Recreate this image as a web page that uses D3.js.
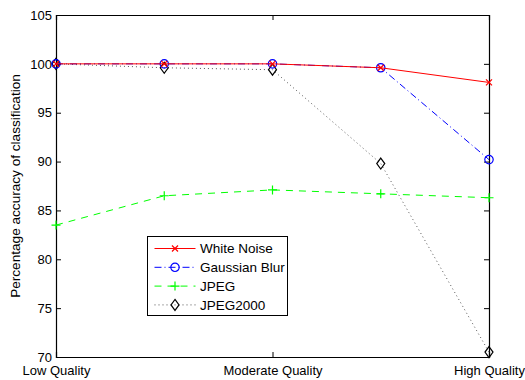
<!DOCTYPE html>
<html>
<head>
<meta charset="utf-8">
<script src="https://cdn.jsdelivr.net/npm/d3@7"></script>
<style>
  body { margin: 0; background: #fff; }
  text { font-family: "Liberation Sans", Arial, sans-serif; }
</style>
</head>
<body>
<svg id="chart"></svg>
<script>
// data
const steps = [0, 1, 2, 3, 4];
const xTickLabels = ["Low Quality", "Moderate Quality", "High Quality"];
const xTickPos = [0, 2, 4];
const yTicks = [70, 75, 80, 85, 90, 95, 100, 105];

const whiteNoise   = [100, 100, 100, 99.6, 98.1];
const gaussianBlur = [100, 100, 100, 99.6, 90.2];
const jpeg         = [83.5, 86.5, 87.1, 86.7, 86.3];
const jpeg2000     = [100, 99.6, 99.4, 89.8, 70.5];

const seriesNames = ["White Noise", "Gaussian Blur", "JPEG", "JPEG2000"];

let width = 525, height = 380;
let margin = {left: 56, right: 36, top: 15, bottom: 23};

let svg = d3.select('#chart').attr('width', width).attr('height', height);

let x = d3.scaleLinear().domain([0, 4]).range([margin.left, width - margin.right]);
let y = d3.scaleLinear().domain([70, 105]).range([height - margin.bottom, margin.top]);

let series = [
  {name: seriesNames[0], values: whiteNoise,   color: '#ff0000', dash: null,      marker: 'x'},
  {name: seriesNames[1], values: gaussianBlur, color: '#0000ff', dash: '7,3,1,3', marker: 'o'},
  {name: seriesNames[2], values: jpeg,         color: '#00ff00', dash: '7,6',     marker: '+'},
  {name: seriesNames[3], values: jpeg2000,     color: '#555555', dash: '1,3',     marker: 'd'}
];

// axes (MATLAB style: ticks inward, full box)
let tick = 5;
let xAxisB = d3.axisBottom(x).tickValues(xTickPos).tickSize(-tick)
  .tickFormat((d, i) => xTickLabels[i]).tickPadding(9);
let xAxisT = d3.axisTop(x).tickValues(xTickPos).tickSize(-tick).tickFormat('');
let yAxisL = d3.axisLeft(y).tickValues(yTicks).tickSize(-tick).tickPadding(4);
let yAxisR = d3.axisRight(y).tickValues(yTicks).tickSize(-tick).tickFormat('');

function style(g) {
  g.select('.domain').attr('stroke', '#000').attr('stroke-width', 1.2);
  g.selectAll('.tick line').attr('stroke', '#000');
  g.selectAll('text').attr('font-size', 13).attr('fill', '#000')
    .attr('font-family', '"Liberation Sans", Arial, sans-serif');
}

svg.append('g').attr('transform', `translate(0,${y(70)})`).call(xAxisB).call(style);
svg.append('g').attr('transform', `translate(0,${y(105)})`).call(xAxisT).call(style);
svg.append('g').attr('transform', `translate(${x(0)},0)`).call(yAxisL).call(style);
svg.append('g').attr('transform', `translate(${x(4)},0)`).call(yAxisR).call(style);

svg.append('text')
  .attr('transform', `translate(20,${(y(70) + y(105)) / 2}) rotate(-90)`)
  .attr('text-anchor', 'middle')
  .attr('font-size', 13.6)
  .text('Percentage accuracy of classification');

function drawMarker(g, type, color) {
  if (type === 'x') {
    g.append('path').attr('d', 'M-3,-3L3,3M-3,3L3,-3').attr('stroke', color).attr('stroke-width', 1.2);
  } else if (type === 'o') {
    g.append('circle').attr('r', 4.2).attr('fill', 'none').attr('stroke', color).attr('stroke-width', 1.2);
  } else if (type === '+') {
    g.append('path').attr('d', 'M-4.5,0L4.5,0M0,-4.5L0,4.5').attr('stroke', color).attr('stroke-width', 1.2);
  } else if (type === 'd') {
    g.append('path').attr('d', 'M0,-5.5L4,0L0,5.5L-4,0Z').attr('fill', 'none').attr('stroke', '#000').attr('stroke-width', 1.2);
  }
}

let line = d3.line().x((d, i) => x(steps[i])).y(d => y(d));

// draw in reverse so White Noise sits on top
series.slice().reverse().forEach(s => {
  svg.append('path')
    .attr('d', line(s.values))
    .attr('fill', 'none')
    .attr('stroke', s.color)
    .attr('stroke-width', 1)
    .attr('stroke-dasharray', s.dash);
  s.values.forEach((v, i) => {
    let g = svg.append('g').attr('transform', `translate(${x(steps[i])},${y(v)})`);
    drawMarker(g, s.marker, s.color);
  });
});

// legend
let lg = svg.append('g').attr('transform', 'translate(147.5,236.5)');
lg.append('rect').attr('width', 140).attr('height', 79)
  .attr('fill', '#fff').attr('stroke', '#000').attr('stroke-width', 1);
series.forEach((s, i) => {
  let yy = 12 + i * 18.8;
  lg.append('line').attr('x1', 7).attr('x2', 48).attr('y1', yy).attr('y2', yy)
    .attr('stroke', s.color).attr('stroke-dasharray', s.dash);
  drawMarker(lg.append('g').attr('transform', `translate(27.5,${yy})`), s.marker, s.color);
  lg.append('text').attr('x', 52.5).attr('y', yy).attr('dy', '0.35em')
    .attr('font-size', 13.5).text(s.name);
});
</script>
</body>
</html>
